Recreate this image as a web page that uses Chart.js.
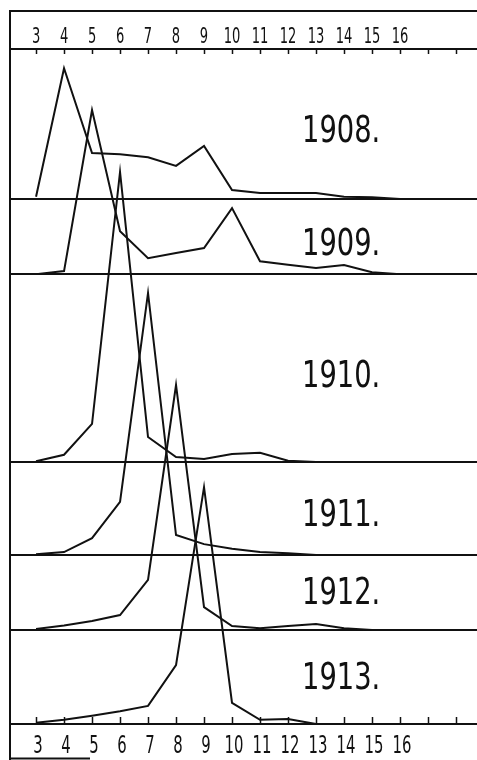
<!DOCTYPE html>
<html>
<head>
<meta charset="utf-8">
<script src="https://cdn.jsdelivr.net/npm/chart.js@4/dist/chart.umd.min.js"></script>
<style>
html,body{margin:0;padding:0;background:#fff;}
#wrap{position:relative;width:477px;height:760px;}
</style>
</head>
<body>
<div id="wrap"><canvas id="c" width="477" height="760"></canvas></div>
<script>
// ---- data (percent of catch by age) ----
const ages = [3,4,5,6,7,8,9,10,11,12,13,14,15,16];
const yearLabels = ['1908.','1909.','1910.','1911.','1912.','1913.'];
const v1908 = [0.6,34.7,12.2,11.9,11.1,8.8,14.1,2.4,1.6,1.6,1.6,0.6,0.5,0];
const v1909 = [0,0.8,43.5,11.4,4.2,5.6,6.9,17.5,3.4,2.5,1.6,2.4,0.5,0];
const v1910 = [0.2,1.9,10.1,76.9,6.6,1.3,0.8,2.1,2.4,0.3,0,0,0,0];
const v1911 = [0.2,0.8,4.5,14.1,69.5,5.3,2.9,1.7,0.8,0.5,0,0,0,0];
const v1912 = [0.3,1.2,2.4,4.0,13.3,65.0,6.1,1.1,0.5,1.1,1.6,0.5,0,0];
const v1913 = [0.3,1.1,2.2,3.4,4.8,15.6,62.8,5.6,1.1,1.3,0,0,0,0];
const tickAges = [3,4,5,6,7,8,9,10,11,12,13,14,15,16,17,18];
const tickLabels = ['3','4','5','6','7','8','9','10','11','12','13','14','15','16'];

// ---- layout (panel baselines on the shared value axis) ----
const panelBase = [139.2,119.3,69.5,44.8,24.9,0];
const yMax = 179;
const xMin = 2.07, xMax = 18.75;
const labelNudge = [18,18,19,18,11,12];

const series = [v1908,v1909,v1910,v1911,v1912,v1913];
const INK = '#111';
const FONT = '"DejaVu Sans Condensed","DejaVu Sans",sans-serif';

const datasets = series.map((vals, i) => ({
  label: yearLabels[i],
  data: ages.map((a, j) => ({x: a, y: panelBase[i] + vals[j]})),
  borderColor: INK,
  borderWidth: 2,
  pointRadius: 0,
  tension: 0,
  fill: false,
  clip: 2
}));

function squeezedText(ctx, text, x, y, sx) {
  ctx.save();
  ctx.translate(x, y);
  ctx.scale(sx, 1);
  ctx.fillText(text, 0, 0);
  ctx.restore();
}

const framePlugin = {
  id: 'frame',
  afterDraw(chart) {
    const {ctx, chartArea: a, scales} = chart;
    const x = scales.x, y = scales.y;
    ctx.save();
    ctx.strokeStyle = INK;
    ctx.lineWidth = 2;
    ctx.beginPath();
    ctx.moveTo(a.left, 11); ctx.lineTo(chart.width, 11);
    ctx.moveTo(a.left, 10); ctx.lineTo(a.left, chart.height);
    ctx.moveTo(a.left, chart.height - 1.5); ctx.lineTo(90, chart.height - 1.5);
    ctx.stroke();
    ctx.lineWidth = 1.5;
    ctx.beginPath();
    tickAges.forEach(v => {
      const px = Math.round(x.getPixelForValue(v)) + 0.5;
      ctx.moveTo(px, a.top); ctx.lineTo(px, a.top + 5);
      ctx.moveTo(px, a.bottom); ctx.lineTo(px, a.bottom - 7);
    });
    ctx.stroke();
    ctx.fillStyle = INK;
    ctx.textAlign = 'center';
    ctx.textBaseline = 'alphabetic';
    // tick labels, top and bottom, placed through the x scale
    tickLabels.forEach((t, i) => {
      const px = x.getPixelForValue(tickAges[i]);
      ctx.font = '22px ' + FONT;
      squeezedText(ctx, t, px, a.top - 6, 0.66);
      ctx.font = '25px ' + FONT;
      squeezedText(ctx, t, px + 2, a.bottom + 29, 0.66);
    });
    // year labels
    ctx.font = '38px ' + FONT;
    ctx.textAlign = 'left';
    const lx = x.getPixelForValue(12.5);
    yearLabels.forEach((t, i) => {
      const topVal = i === 0 ? yMax : panelBase[i - 1];
      const mid = (y.getPixelForValue(topVal) + y.getPixelForValue(panelBase[i])) / 2;
      squeezedText(ctx, t, lx, mid + labelNudge[i], 0.8);
    });
    ctx.restore();
  }
};

new Chart(document.getElementById('c'), {
  type: 'line',
  data: {datasets},
  options: {
    responsive: false,
    devicePixelRatio: 1,
    animation: false,
    events: [],
    layout: {padding: 0},
    plugins: {legend: {display: false}, tooltip: {enabled: false}},
    scales: {
      x: {
        type: 'linear', position: 'bottom', min: xMin, max: xMax,
        afterBuildTicks(s) { s.ticks = tickAges.map(v => ({value: v})); },
        afterFit(s) { s.height = 36; s.paddingLeft = 0; s.paddingRight = 0; },
        grid: {display: false, drawTicks: false},
        border: {display: true, color: INK, width: 2},
        ticks: {display: false}
      },
      xTop: {
        type: 'linear', position: 'top', min: xMin, max: xMax,
        afterBuildTicks(s) { s.ticks = tickAges.map(v => ({value: v})); },
        afterFit(s) { s.height = 49; s.paddingLeft = 0; s.paddingRight = 0; },
        grid: {display: false, drawTicks: false},
        border: {display: true, color: INK, width: 2},
        ticks: {display: false}
      },
      y: {
        type: 'linear', position: 'left', min: 0, max: yMax,
        afterBuildTicks(s) { s.ticks = panelBase.filter(v => v > 0).map(v => ({value: v})); },
        afterFit(s) { s.width = 10; },
        grid: {color: INK, lineWidth: 2, drawTicks: false},
        border: {display: false},
        ticks: {display: false}
      }
    }
  },
  plugins: [framePlugin]
});
</script>
</body>
</html>
